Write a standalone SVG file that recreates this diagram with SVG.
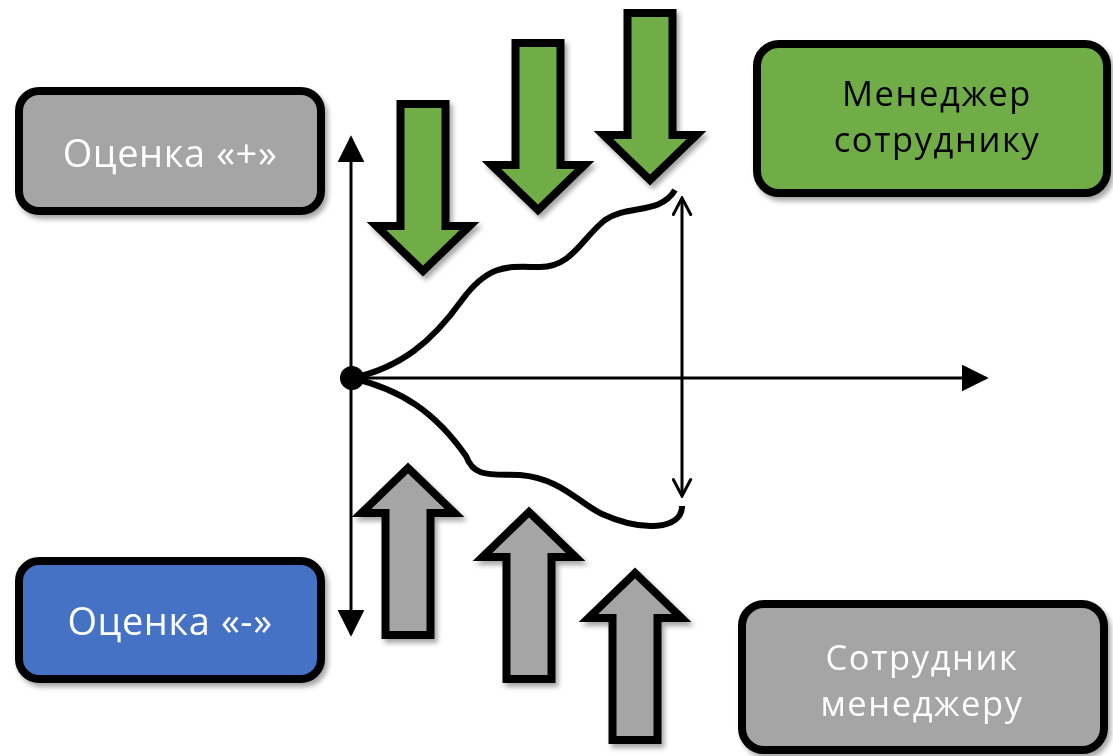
<svg xmlns="http://www.w3.org/2000/svg" width="1113" height="756" viewBox="0 0 1113 756">
  <style>
    .box { stroke: #000; stroke-width: 8; }
    .lbl { font-family: "Open Sans", "Noto Sans", sans-serif; font-size: 38px; letter-spacing: 0.6px; text-anchor: middle; }
    .two { font-size: 34.5px; letter-spacing: 1.6px; }
    .light { fill: #ffffff; }
    .dark { fill: #000000; }
    .axis { stroke: #000; stroke-width: 3; fill: none; }
    .curve { stroke: #000; stroke-width: 6; fill: none; stroke-linecap: butt; }
    .big { stroke: #000; stroke-width: 8; stroke-linejoin: miter; }
  </style>
  <defs>
    <filter id="shadow" x="-20%" y="-20%" width="140%" height="140%">
      <feDropShadow dx="3" dy="4" stdDeviation="2.5" flood-color="#000" flood-opacity="0.35"/>
    </filter>
    <!-- block arrow pointing down, tip at origin -->
    <path id="blockArrow" d="M-22.5,-167 H22.5 V-45 H46.5 L0,0 L-46.5,-45 H-22.5 Z"/>
    <marker id="solidHead" viewBox="0 0 10 10" refX="9" refY="5" markerWidth="9" markerHeight="9" markerUnits="strokeWidth" orient="auto-start-reverse">
      <path d="M0,0 L10,5 L0,10 Z" fill="#000"/>
    </marker>
    <marker id="openHead" viewBox="0 0 14 14" refX="12.5" refY="7" markerWidth="7" markerHeight="7" markerUnits="strokeWidth" orient="auto-start-reverse">
      <path d="M1.5,1.2 L12.5,7 L1.5,12.8" fill="none" stroke="#000" stroke-width="2" stroke-linecap="round" stroke-linejoin="miter"/>
    </marker>
  </defs>

  <!-- axes, curves and span arrow -->
  <g id="connectors">
    <line class="axis" x1="351" y1="634" x2="351" y2="138" marker-start="url(#solidHead)" marker-end="url(#solidHead)"/>
    <line class="axis" x1="351" y1="378" x2="986" y2="378" marker-end="url(#solidHead)"/>
    <path class="curve" d="M352,378 C400,368 432,342 462,300 C490,262 510,267 540,267 C572,267 582,238 605,220 C628,204 660,215 675,190"/>
    <path class="curve" d="M352,378 C402,390 435,412 466,456 C474,478 490,474 520,475 C560,478 580,504 602,514 C642,532 682,530 682,506"/>
    <line class="axis" x1="682" y1="496" x2="682" y2="198" marker-start="url(#openHead)" marker-end="url(#openHead)"/>
    <circle cx="352" cy="378" r="12" fill="#000"/>
  </g>

  <!-- feedback arrows: manager to employee -->
  <g id="down-arrows" filter="url(#shadow)">
    <use href="#blockArrow" class="big" fill="#70ad47" transform="translate(423,271)"/>
    <use href="#blockArrow" class="big" fill="#70ad47" transform="translate(538,210)"/>
    <use href="#blockArrow" class="big" fill="#70ad47" transform="translate(650,180)"/>
  </g>

  <!-- feedback arrows: employee to manager -->
  <g id="up-arrows" filter="url(#shadow)">
    <use href="#blockArrow" class="big" fill="#a5a5a5" transform="translate(408,468) rotate(180)"/>
    <use href="#blockArrow" class="big" fill="#a5a5a5" transform="translate(529,512) rotate(180)"/>
    <use href="#blockArrow" class="big" fill="#a5a5a5" transform="translate(635,573) rotate(180)"/>
  </g>

  <g id="node-plus" filter="url(#shadow)">
    <rect class="box" x="19" y="91" width="302" height="120" rx="20" fill="#a5a5a5"/>
    <text class="lbl light" x="170" y="167">Оценка «+»</text>
  </g>

  <g id="node-minus" filter="url(#shadow)">
    <rect class="box" x="19" y="561" width="302" height="118" rx="20" fill="#4472c4"/>
    <text class="lbl light" x="170" y="635">Оценка «-»</text>
  </g>

  <g id="node-manager" filter="url(#shadow)">
    <rect class="box" x="757" y="44" width="350" height="149" rx="22" fill="#70ad47"/>
    <text class="lbl two dark" x="937" y="106">Менеджер</text>
    <text class="lbl two dark" x="937" y="152">сотруднику</text>
  </g>

  <g id="node-employee" filter="url(#shadow)">
    <rect class="box" x="742" y="604" width="362" height="146" rx="22" fill="#a5a5a5"/>
    <text class="lbl two light" x="922" y="670">Сотрудник</text>
    <text class="lbl two light" x="922" y="716">менеджеру</text>
  </g>
</svg>
